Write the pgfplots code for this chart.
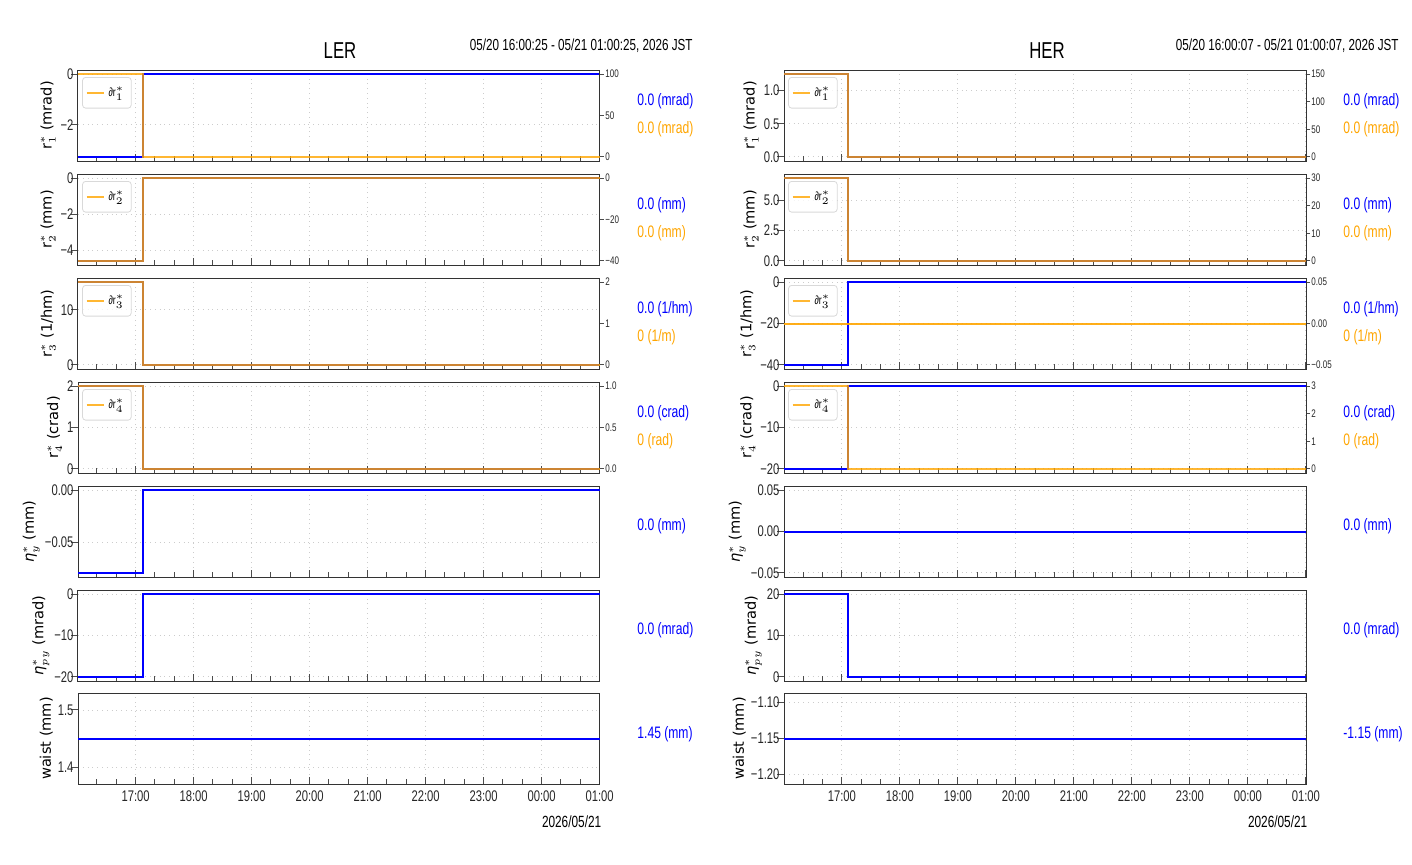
\documentclass[border=0pt]{standalone}
\usepackage{fontspec}
\setmainfont{Liberation Sans}[FakeStretch=0.73]
\newfontfamily\dejavu{DejaVu Sans}
\usepackage{pgfplots}
\pgfplotsset{compat=1.18}
\definecolor{mblue}{RGB}{0,0,255}
\definecolor{morange}{RGB}{255,165,0}
\newcommand\etag{{\dejavu\itshape η}}
\pgfplotsset{
  base/.style={scale only axis, width=261pt, height=45.5pt, anchor=north west,
    scaled y ticks=false, scaled x ticks=false,
    xtick={17,18,19,20,21,22,23,24,25},
    minor xtick={16.3333,16.6667,17.3333,17.6667,18.3333,18.6667,19.3333,19.6667,20.3333,20.6667,21.3333,21.6667,22.3333,22.6667,23.3333,23.6667,24.3333,24.6667},
    xticklabels={},
    major tick length=3.3pt, minor tick length=2.3pt,
    tick style={black!70, line width=0.5pt},
  },
  main/.style={base, xtick pos=left, ytick pos=left, xtick align=inside, ytick align=outside,
    grid=major, major grid style={gray!40, dotted, line width=0.4pt},
    axis line style={black!80, line width=0.5pt},
    tick label style={font=\fontsize{7.7}{8}\selectfont, text=black!85},
    yticklabel style={inner xsep=0.5pt, xshift=1.7pt},
    ylabel style={font=\dejavu\fontsize{7.3}{8}\selectfont, yshift=-1.5pt},
  },
  twin/.style={base, axis x line=none, axis y line*=right, ytick align=outside,
    axis line style={black!80, line width=0.5pt},
    major tick length=2pt,
    tick label style={font=\fontsize{5.5}{6}\selectfont, text=black!85},
    yticklabel style={inner xsep=0.5pt},
    legend style={at={(0.008,0.923)}, anchor=north west, draw=gray!30, fill=white, fill opacity=0.8, text opacity=1,
      rounded corners=1.5pt, font=\fontsize{6}{6}\selectfont, inner xsep=1.5pt, inner ysep=2.5pt},
    legend image code/.code={\draw[##1](0pt,0pt)--(8.5pt,0pt);},
  },
  ler/.style={xmin=16.007, xmax=25.007},
  her/.style={xmin=16.002, xmax=25.002},
  bl/.style={mblue, line width=1pt, const plot},
  flat/.style={mblue, line width=1pt, sharp plot},
  orp/.style={morange, opacity=0.8, line width=1pt, const plot, forget plot},
  lastrow/.style={xticklabels={17:00,18:00,19:00,20:00,21:00,22:00,23:00,00:00,01:00}},
}
\newcommand\valtxt[3]{\node[anchor=west, inner sep=0pt, text=#3, font=\fontsize{8.3}{9}\selectfont] at (#1) {#2};}
\begin{document}
\begin{tikzpicture}
\path[use as bounding box] (0,0) rectangle (706pt,-432pt);
% ================= LER =================
\node[font=\fontsize{11.5}{12}\selectfont] at (170pt,-25.5pt) {LER};
\node[anchor=east, inner sep=0pt, font=\fontsize{8}{9}\selectfont] at (346.5pt,-23pt) {05/20 16:00:25 - 05/21 01:00:25, 2026 JST};
% R1
\begin{axis}[main, ler, at={(39pt,-35pt)}, ymin=-3.4335, ymax=0.1635, ytick={-2,0}, yticklabels={−2,0}, ylabel={r$^{*}_{1}$ (mrad)}]
\addplot[bl] coordinates {(16.007,-3.27) (17.127,0) (25.007,0)};
\end{axis}
\begin{axis}[twin, ler, at={(39pt,-35pt)}, ymin=-5, ymax=105, ytick={0,50,100}, yticklabels={0,50,100}]
\addplot[orp] coordinates {(16.007,100) (17.127,0) (25.007,0)};
\addlegendimage{morange, opacity=0.8, line width=1pt}\addlegendentry{∂r$^{*}_{1}$}
\end{axis}
% R2
\begin{axis}[main, ler, at={(39pt,-87pt)}, ymin=-4.7985, ymax=0.2285, ytick={-4,-2,0}, yticklabels={−4,−2,0}, ylabel={r$^{*}_{2}$ (mm)}]
\addplot[bl] coordinates {(16.007,-4.57) (17.127,0) (25.007,0)};
\end{axis}
\begin{axis}[twin, ler, at={(39pt,-87pt)}, ymin=-42, ymax=2, ytick={-40,-20,0}, yticklabels={−40,−20,0}]
\addplot[orp] coordinates {(16.007,-40) (17.127,0) (25.007,0)};
\addlegendimage{morange, opacity=0.8, line width=1pt}\addlegendentry{∂r$^{*}_{2}$}
\end{axis}
% R3
\begin{axis}[main, ler, at={(39pt,-139pt)}, ymin=-0.75, ymax=15.75, ytick={0,10}, yticklabels={0,10}, ylabel={r$^{*}_{3}$ (1/hm)}]
\addplot[bl] coordinates {(16.007,15) (17.127,0) (25.007,0)};
\end{axis}
\begin{axis}[twin, ler, at={(39pt,-139pt)}, ymin=-0.1, ymax=2.1, ytick={0,1,2}, yticklabels={0,1,2}]
\addplot[orp] coordinates {(16.007,2) (17.127,0) (25.007,0)};
\addlegendimage{morange, opacity=0.8, line width=1pt}\addlegendentry{∂r$^{*}_{3}$}
\end{axis}
% R4
\begin{axis}[main, ler, at={(39pt,-191pt)}, ymin=-0.1, ymax=2.1, ytick={0,1,2}, yticklabels={0,1,2}, ylabel={r$^{*}_{4}$ (crad)}]
\addplot[bl] coordinates {(16.007,2) (17.127,0) (25.007,0)};
\end{axis}
\begin{axis}[twin, ler, at={(39pt,-191pt)}, ymin=-0.05, ymax=1.05, ytick={0,0.5,1}, yticklabels={0.0,0.5,1.0}]
\addplot[orp] coordinates {(16.007,1) (17.127,0) (25.007,0)};
\addlegendimage{morange, opacity=0.8, line width=1pt}\addlegendentry{∂r$^{*}_{4}$}
\end{axis}
% R5
\begin{axis}[main, ler, at={(39pt,-243pt)}, ymin=-0.08295, ymax=0.00395, ytick={-0.05,0}, yticklabels={−0.05,0.00}, ylabel={\etag$^{*}_{y}$ (mm)}]
\addplot[bl] coordinates {(16.007,-0.079) (17.127,0) (25.007,0)};
\end{axis}
% R6
\begin{axis}[main, ler, at={(39pt,-295pt)}, ymin=-21, ymax=1, ytick={-20,-10,0}, yticklabels={−20,−10,0}, ylabel={\etag$^{*}_{py}$ (mrad)}]
\addplot[bl] coordinates {(16.007,-20) (17.127,0) (25.007,0)};
\end{axis}
% R7
\begin{axis}[main, ler, lastrow, at={(39pt,-346.5pt)}, ymin=1.37025, ymax=1.52975, ytick={1.4,1.5}, yticklabels={1.4,1.5}, ylabel={waist (mm)}]
\addplot[flat] coordinates {(16.007,1.45) (20.5,1.45) (25.007,1.45)};
\end{axis}
\node[anchor=east, inner sep=0pt, font=\fontsize{8.1}{9}\selectfont] at (300.8pt,-411pt) {2026/05/21};
\valtxt{318.5pt,-50.5pt}{0.0 (mrad)}{mblue}
\valtxt{318.5pt,-64.5pt}{0.0 (mrad)}{morange}
\valtxt{318.5pt,-102.5pt}{0.0 (mm)}{mblue}
\valtxt{318.5pt,-116.5pt}{0.0 (mm)}{morange}
\valtxt{318.5pt,-154.5pt}{0.0 (1/hm)}{mblue}
\valtxt{318.5pt,-168.5pt}{0 (1/m)}{morange}
\valtxt{318.5pt,-206.5pt}{0.0 (crad)}{mblue}
\valtxt{318.5pt,-220.5pt}{0 (rad)}{morange}
\valtxt{318.5pt,-263pt}{0.0 (mm)}{mblue}
\valtxt{318.5pt,-315pt}{0.0 (mrad)}{mblue}
\valtxt{318.5pt,-367pt}{1.45 (mm)}{mblue}
% ================= HER =================
\node[font=\fontsize{11.5}{12}\selectfont] at (523.5pt,-25.5pt) {HER};
\node[anchor=east, inner sep=0pt, font=\fontsize{8}{9}\selectfont] at (699.5pt,-23pt) {05/20 16:00:07 - 05/21 01:00:07, 2026 JST};
% R1
\begin{axis}[main, her, at={(392pt,-35pt)}, ymin=-0.0625, ymax=1.3125, ytick={0,0.5,1}, yticklabels={0.0,0.5,1.0}, ylabel={r$^{*}_{1}$ (mrad)}]
\addplot[bl] coordinates {(16.002,1.25) (17.105,0) (25.002,0)};
\end{axis}
\begin{axis}[twin, her, at={(392pt,-35pt)}, ymin=-7.5, ymax=157.5, ytick={0,50,100,150}, yticklabels={0,50,100,150}]
\addplot[orp] coordinates {(16.002,150) (17.105,0) (25.002,0)};
\addlegendimage{morange, opacity=0.8, line width=1pt}\addlegendentry{∂r$^{*}_{1}$}
\end{axis}
% R2
\begin{axis}[main, her, at={(392pt,-87pt)}, ymin=-0.34, ymax=7.14, ytick={0,2.5,5}, yticklabels={0.0,2.5,5.0}, ylabel={r$^{*}_{2}$ (mm)}]
\addplot[bl] coordinates {(16.002,6.8) (17.105,0) (25.002,0)};
\end{axis}
\begin{axis}[twin, her, at={(392pt,-87pt)}, ymin=-1.5, ymax=31.5, ytick={0,10,20,30}, yticklabels={0,10,20,30}]
\addplot[orp] coordinates {(16.002,30) (17.105,0) (25.002,0)};
\addlegendimage{morange, opacity=0.8, line width=1pt}\addlegendentry{∂r$^{*}_{2}$}
\end{axis}
% R3
\begin{axis}[main, her, at={(392pt,-139pt)}, ymin=-42, ymax=2, ytick={-40,-20,0}, yticklabels={−40,−20,0}, ylabel={r$^{*}_{3}$ (1/hm)}]
\addplot[bl] coordinates {(16.002,-40) (17.105,0) (25.002,0)};
\end{axis}
\begin{axis}[twin, her, at={(392pt,-139pt)}, ymin=-0.055, ymax=0.055, ytick={-0.05,0,0.05}, yticklabels={−0.05,0.00,0.05}]
\addplot[morange, opacity=0.9, line width=1pt, sharp plot, forget plot] coordinates {(16.002,0) (20.5,0) (25.002,0)};
\addlegendimage{morange, opacity=0.8, line width=1pt}\addlegendentry{∂r$^{*}_{3}$}
\end{axis}
% R4
\begin{axis}[main, her, at={(392pt,-191pt)}, ymin=-21, ymax=1, ytick={-20,-10,0}, yticklabels={−20,−10,0}, ylabel={r$^{*}_{4}$ (crad)}]
\addplot[bl] coordinates {(16.002,-20) (17.105,0) (25.002,0)};
\end{axis}
\begin{axis}[twin, her, at={(392pt,-191pt)}, ymin=-0.15, ymax=3.15, ytick={0,1,2,3}, yticklabels={0,1,2,3}]
\addplot[orp] coordinates {(16.002,3) (17.105,0) (25.002,0)};
\addlegendimage{morange, opacity=0.8, line width=1pt}\addlegendentry{∂r$^{*}_{4}$}
\end{axis}
% R5
\begin{axis}[main, her, at={(392pt,-243pt)}, ymin=-0.055, ymax=0.055, ytick={-0.05,0,0.05}, yticklabels={−0.05,0.00,0.05}, ylabel={\etag$^{*}_{y}$ (mm)}]
\addplot[flat] coordinates {(16.002,0) (20.5,0) (25.002,0)};
\end{axis}
% R6
\begin{axis}[main, her, at={(392pt,-295pt)}, ymin=-1, ymax=21, ytick={0,10,20}, yticklabels={0,10,20}, ylabel={\etag$^{*}_{py}$ (mrad)}]
\addplot[bl] coordinates {(16.002,20) (17.105,0) (25.002,0)};
\end{axis}
% R7
\begin{axis}[main, her, lastrow, at={(392pt,-346.5pt)}, ymin=-1.21325, ymax=-1.08675, ytick={-1.2,-1.15,-1.1}, yticklabels={−1.20,−1.15,−1.10}, ylabel={waist (mm)}]
\addplot[flat] coordinates {(16.002,-1.15) (20.5,-1.15) (25.002,-1.15)};
\end{axis}
\node[anchor=east, inner sep=0pt, font=\fontsize{8.1}{9}\selectfont] at (653.8pt,-411pt) {2026/05/21};
\valtxt{671.5pt,-50.5pt}{0.0 (mrad)}{mblue}
\valtxt{671.5pt,-64.5pt}{0.0 (mrad)}{morange}
\valtxt{671.5pt,-102.5pt}{0.0 (mm)}{mblue}
\valtxt{671.5pt,-116.5pt}{0.0 (mm)}{morange}
\valtxt{671.5pt,-154.5pt}{0.0 (1/hm)}{mblue}
\valtxt{671.5pt,-168.5pt}{0 (1/m)}{morange}
\valtxt{671.5pt,-206.5pt}{0.0 (crad)}{mblue}
\valtxt{671.5pt,-220.5pt}{0 (rad)}{morange}
\valtxt{671.5pt,-263pt}{0.0 (mm)}{mblue}
\valtxt{671.5pt,-315pt}{0.0 (mrad)}{mblue}
\valtxt{671.5pt,-367pt}{-1.15 (mm)}{mblue}
\end{tikzpicture}
\end{document}
